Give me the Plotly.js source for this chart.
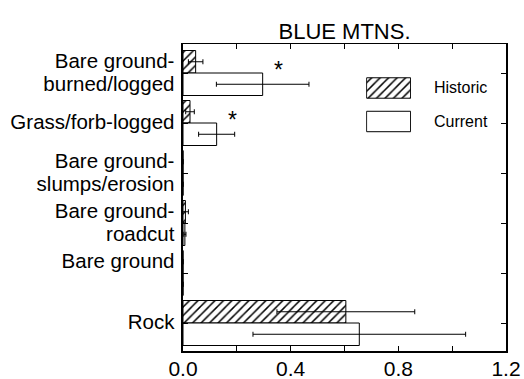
<!DOCTYPE html>
<html>
<head>
<meta charset="utf-8">
<script src="https://cdn.plot.ly/plotly-3.0.1.min.js"></script>
<style>html,body{margin:0;padding:0;background:#fff;}#chart{width:524px;height:379px;}</style>
</head>
<body>
<div id="chart"></div>
<script>
// ---- data ----
var categories = ["Bare ground-burned/logged", "Grass/forb-logged", "Bare ground-slumps/erosion", "Bare ground-roadcut", "Bare ground", "Rock"];
var labelLines = [["Bare ground-", "burned/logged"], ["Grass/forb-logged"], ["Bare ground-", "slumps/erosion"], ["Bare ground-", "roadcut"], ["Bare ground", "&nbsp;"], ["Rock"]];
var historic = [0.047, 0.026, 0, 0.009, 0, 0.605];
var historicErr = [0.027, 0.016, 0, 0.011, 0, 0.256];
var current = [0.296, 0.125, 0, 0.007, 0, 0.655];
var currentErr = [0.172, 0.067, 0, 0.004, 0, 0.395];
var seriesNames = ["Historic", "Current"];
var starCategories = ["Bare ground-burned/logged", "Grass/forb-logged"];
var starX = [0.354, 0.184];
var xTickVals = [0, 0.2, 0.4, 0.6, 0.8, 1.0, 1.2];
var xTickText = ["0.0", "", "0.4", "", "0.8", "", "1.2"];
var titleText = "BLUE MTNS.";

var FONT = "Liberation Sans, Arial, Helvetica, sans-serif";
var hatch = {shape: "/", fgcolor: "#000", bgcolor: "#fff", size: 6, solidity: 0.25};

var tickText = labelLines.map(function (lines) {
  return lines.map(function (l) { return '<span style="font-size:20.5px">' + l + '</span>'; }).join("<br>");
});

var errStyle = {type: "data", symmetric: true, color: "#000", thickness: 1, width: 2.5};

var traces = [
  {
    type: "bar", orientation: "h", name: seriesNames[0],
    y: categories, x: historic,
    error_x: Object.assign({array: historicErr}, errStyle),
    marker: {color: "#fff", pattern: hatch, line: {color: "#000", width: 1}},
    showlegend: false, hoverinfo: "skip"
  },
  {
    type: "bar", orientation: "h", name: seriesNames[1],
    y: categories, x: current,
    error_x: Object.assign({array: currentErr}, errStyle),
    marker: {color: "#fff", line: {color: "#000", width: 1}},
    showlegend: false, hoverinfo: "skip"
  },
  // legend swatches drawn on a small hidden axis pair
  {
    type: "bar", orientation: "h", xaxis: "x2", yaxis: "y2",
    y: [seriesNames[0]], x: [1], base: 0, width: 0.61, offset: -0.305,
    marker: {color: "#fff", pattern: hatch, line: {color: "#000", width: 1}},
    showlegend: false, hoverinfo: "skip"
  },
  {
    type: "bar", orientation: "h", xaxis: "x2", yaxis: "y2",
    y: [seriesNames[1]], x: [1], base: 0, width: 0.61, offset: -0.305,
    marker: {color: "#fff", line: {color: "#000", width: 1}},
    showlegend: false, hoverinfo: "skip"
  }
];

var annotations = [];
for (var i = 0; i < starCategories.length; i++) {
  annotations.push({
    x: starX[i], y: categories.indexOf(starCategories[i]), xref: "x", yref: "y",
    text: "*", showarrow: false, xanchor: "center", yanchor: "middle", yshift: 3.5,
    font: {family: FONT, size: 23, color: "#000"}
  });
}
annotations.push({
  x: 0.771, y: 0.857, xref: "paper", yref: "paper", text: seriesNames[0],
  showarrow: false, xanchor: "left", yanchor: "middle",
  font: {family: FONT, size: 16, color: "#000"}
});
annotations.push({
  x: 0.771, y: 0.749, xref: "paper", yref: "paper", text: seriesNames[1],
  showarrow: false, xanchor: "left", yanchor: "middle",
  font: {family: FONT, size: 16, color: "#000"}
});

var layout = {
  width: 524, height: 379,
  margin: {l: 183, r: 18, t: 44, b: 28, pad: 0},
  paper_bgcolor: "#fff", plot_bgcolor: "#fff",
  font: {family: FONT, color: "#000"},
  showlegend: false,
  barmode: "group", bargap: 0.1, bargroupgap: 0,
  title: {
    text: titleText, font: {family: FONT, size: 22, color: "#000"},
    xref: "paper", x: 0.5, xanchor: "center",
    yref: "container", y: 0.897, yanchor: "bottom"
  },
  xaxis: {
    range: [0, 1.2], tickmode: "array", tickvals: xTickVals, ticktext: xTickText,
    ticks: "inside", ticklen: 5, tickwidth: 1, tickcolor: "#000",
    showline: true, linecolor: "#000", linewidth: 1.5, mirror: "ticks",
    showgrid: false, zeroline: false, automargin: false, ticklabelstandoff: -2,
    tickfont: {family: FONT, size: 21, color: "#000"}
  },
  yaxis: {
    type: "category", categoryorder: "array", categoryarray: categories,
    range: [5.56, -0.58], tickmode: "array", tickvals: categories, ticktext: tickText,
    ticks: "inside", ticklen: 5, tickwidth: 1, tickcolor: "#000",
    showline: true, linecolor: "#000", linewidth: 2, mirror: "ticks",
    showgrid: false, zeroline: false, automargin: false, ticklabelstandoff: 3,
    tickfont: {family: FONT, size: 17.7, color: "#000"}
  },
  xaxis2: {domain: [0.567, 0.706], range: [-0.01, 1.01], anchor: "y2", visible: false, fixedrange: true},
  yaxis2: {domain: [0.70, 0.90], type: "category", categoryorder: "array", categoryarray: seriesNames,
           range: [1.436, -0.397], anchor: "x2", visible: false, fixedrange: true},
  annotations: annotations
};

Plotly.newPlot("chart", traces, layout, {displayModeBar: false, staticPlot: true});
</script>
</body>
</html>
